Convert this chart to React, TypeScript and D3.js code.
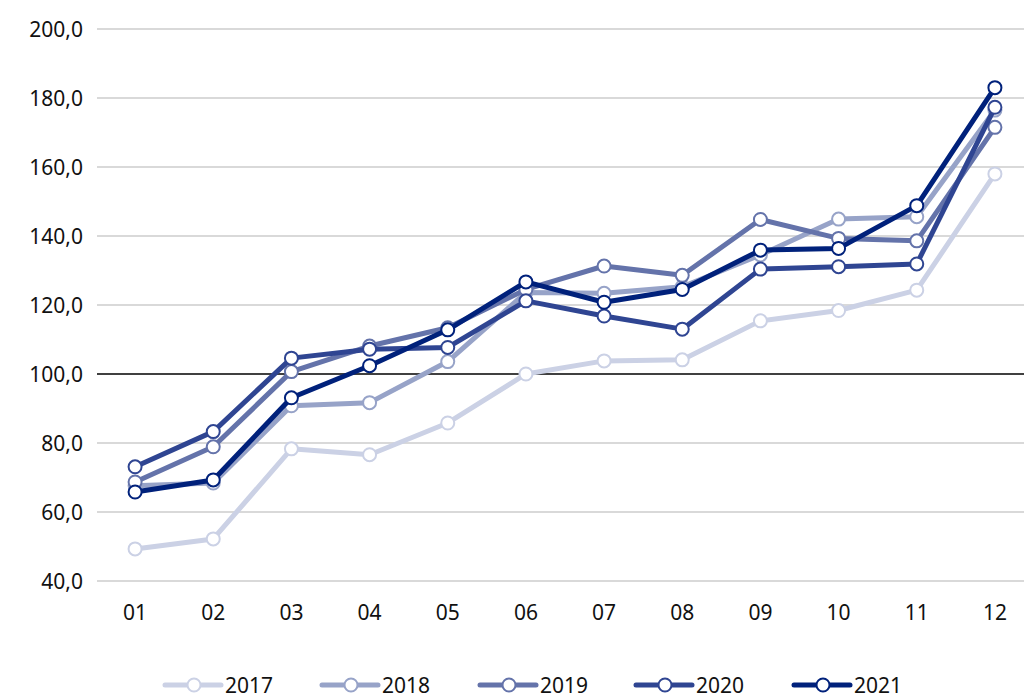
import React from "react";
import * as d3 from "d3";

const months = ["01", "02", "03", "04", "05", "06", "07", "08", "09", "10", "11", "12"];
const years = ["2017", "2018", "2019", "2020", "2021"];
const yTicks = [40, 60, 80, 100, 120, 140, 160, 180, 200];

const v2017 = [49.3, 52.2, 78.3, 76.6, 85.8, 100.0, 103.8, 104.1, 115.4, 118.4, 124.3, 158.0];
const v2018 = [67.6, 68.4, 90.8, 91.7, 103.6, 123.6, 123.4, 125.3, 134.5, 144.9, 145.6, 176.5];
const v2019 = [68.7, 78.9, 100.7, 108.1, 113.4, 124.5, 131.3, 128.6, 144.8, 139.3, 138.6, 171.5];
const v2020 = [73.1, 83.3, 104.6, 107.2, 107.7, 121.2, 116.8, 113.0, 130.4, 131.1, 131.9, 177.3];
const v2021 = [65.8, 69.3, 93.1, 102.4, 112.8, 126.7, 120.8, 124.5, 135.9, 136.4, 148.8, 183.0];

const seriesValues = [v2017, v2018, v2019, v2020, v2021];
const colors = ["#cbd1e5", "#97a3c8", "#6473aa", "#2f4592", "#00217b"];

const W = 1024;
const H = 700;
const FONT = "'Noto Sans', 'Open Sans', sans-serif";

export default function App() {
  const x = d3.scaleBand<string>().domain(months).range([96, 1034]).padding(0);
  const cx = (m: string) => (x(m) as number) + x.bandwidth() / 2;
  const y = d3.scaleLinear().domain([40, 200]).range([581, 29]);
  const line = d3
    .line<number>()
    .x((_, i) => cx(months[i]))
    .y((d) => y(d));
  const fmt = (v: number) => d3.format(".1f")(v).replace(".", ",");

  const legendX = [165, 322, 480, 636, 794];
  const legendY = 685;

  return (
    <svg
      width={W}
      height={H}
      style={{ position: "absolute", left: 0, top: 0, display: "block", background: "#fff" }}
      fontFamily={FONT}
    >
      {yTicks.map((t) => (
        <g key={t}>
          <line
            x1={97}
            x2={W}
            y1={y(t)}
            y2={y(t)}
            stroke={t === 100 ? "#000" : "#d9d9d9"}
            strokeWidth={t === 100 ? 1.5 : 2}
          />
          <text x={83} y={y(t)} dy="0.36em" textAnchor="end" fontSize={21} fill="#111">
            {fmt(t)}
          </text>
        </g>
      ))}
      {months.map((m) => (
        <text key={m} x={cx(m)} y={612} dy="0.36em" textAnchor="middle" fontSize={21} fill="#111">
          {m}
        </text>
      ))}
      {seriesValues.map((vals, si) => (
        <g key={years[si]}>
          <path d={line(vals) || ""} fill="none" stroke={colors[si]} strokeWidth={5} strokeLinejoin="round" />
          {vals.map((v, i) => (
            <circle key={i} cx={cx(months[i])} cy={y(v)} r={6.5} fill="#fff" stroke={colors[si]} strokeWidth={2} />
          ))}
        </g>
      ))}
      {years.map((yr, i) => (
        <g key={yr} transform={`translate(${legendX[i]},${legendY})`}>
          <line x1={0} x2={56} y1={0} y2={0} stroke={colors[i]} strokeWidth={5} strokeLinecap="round" />
          <circle cx={29} cy={0} r={6.5} fill="#fff" stroke={colors[i]} strokeWidth={2} />
          <text x={60} y={0} dy="0.36em" fontSize={21} fill="#111">
            {yr}
          </text>
        </g>
      ))}
    </svg>
  );
}
